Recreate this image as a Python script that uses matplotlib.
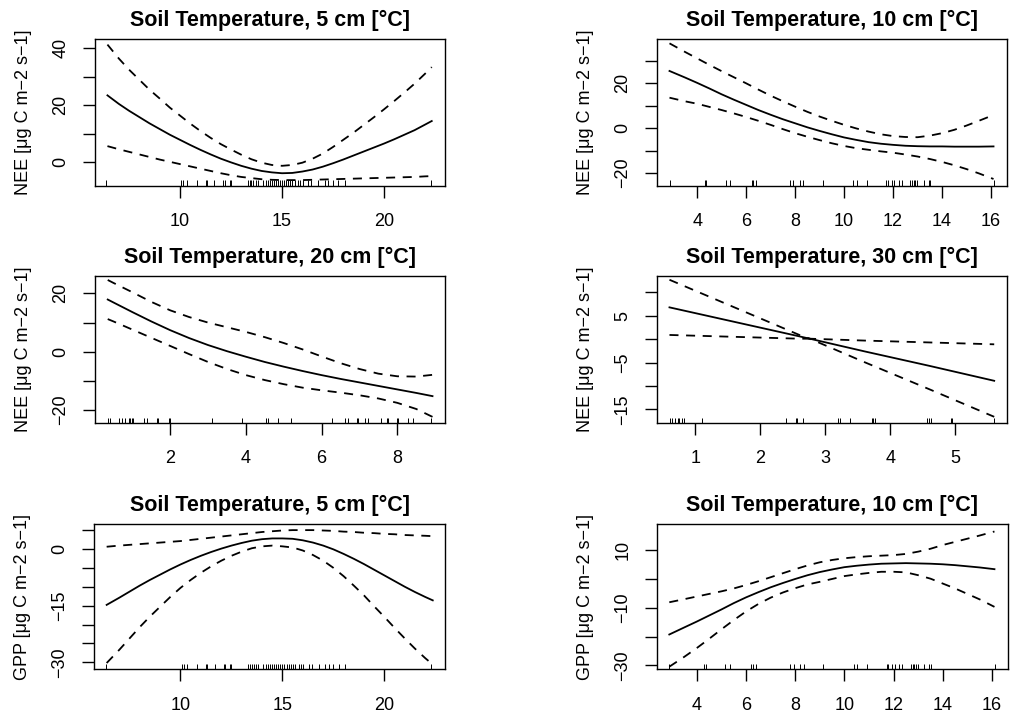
import matplotlib
matplotlib.use("Agg")
import matplotlib.pyplot as plt

plt.rcParams['font.family'] = ['Liberation Sans', 'DejaVu Sans']

# ---------------- data ----------------
titles = ["Soil Temperature, 5 cm [°C]", "Soil Temperature, 10 cm [°C]",
          "Soil Temperature, 20 cm [°C]", "Soil Temperature, 30 cm [°C]",
          "Soil Temperature, 5 cm [°C]", "Soil Temperature, 10 cm [°C]"]
ylabels = ["NEE [μg C m−2 s−1]", "NEE [μg C m−2 s−1]",
           "NEE [μg C m−2 s−1]", "NEE [μg C m−2 s−1]",
           "GPP [μg C m−2 s−1]", "GPP [μg C m−2 s−1]"]

# Panel 1: NEE ~ s(T5)
x1 = [6.44, 7, 7.5, 8, 8.5, 9, 9.5, 10, 10.5, 11, 11.5, 12, 12.5, 13, 13.5, 14, 14.5,
      15, 15.5, 16, 16.5, 17, 17.5, 18, 18.5, 19, 19.5, 20, 20.5, 21, 21.5, 22, 22.34]
fit1 = [23.4, 20.4, 18.0, 15.8, 13.6, 11.6, 9.6, 7.8, 6.0, 4.3, 2.7, 1.2, -0.1, -1.3, -2.3, -3.1, -3.6,
        -3.9, -3.8, -3.3, -2.6, -1.6, -0.4, 0.9, 2.3, 3.7, 5.1, 6.5, 8.0, 9.6, 11.2, 13.1, 14.4]
up1 = [41.2, 36.3, 32.4, 28.9, 25.4, 22.3, 19.1, 16.3, 13.5, 10.9, 8.5, 6.3, 4.4, 2.6, 1.0, -0.2, -1.0,
       -1.3, -1.0, -0.2, 1.2, 3.0, 5.3, 7.8, 10.3, 13.0, 15.7, 18.5, 21.4, 24.4, 27.5, 30.9, 33.3]
lo1 = [5.6, 4.5, 3.6, 2.7, 1.8, 0.9, 0.1, -0.7, -1.5, -2.3, -3.1, -3.9, -4.6, -5.2, -5.6, -6.0, -6.2,
       -6.3, -6.3, -6.3, -6.2, -6.1, -6.0, -5.9, -5.8, -5.7, -5.6, -5.5, -5.4, -5.3, -5.2, -5.0, -4.9]

# Panel 2: NEE ~ s(T10)
x2 = [2.87, 3.5, 4, 4.5, 5, 5.5, 6, 6.5, 7, 7.5, 8, 8.5, 9, 9.5, 10, 10.5, 11, 11.5, 12,
      12.5, 13, 13.5, 14, 14.5, 15, 15.5, 16.1]
fit2 = [25.5, 22.6, 20.2, 17.7, 15.1, 12.7, 10.4, 8.1, 6.0, 4.0, 2.2, 0.4, -1.2, -2.7, -4.1, -5.2,
        -6.2, -6.9, -7.4, -7.8, -8.0, -8.1, -8.1, -8.2, -8.2, -8.2, -8.1]
up2 = [37.8, 34.0, 31.1, 28.2, 25.4, 22.7, 20.0, 17.2, 14.5, 12.0, 9.6, 7.3, 5.2, 3.3, 1.5, -0.1,
       -1.5, -2.7, -3.5, -3.9, -4.0, -3.3, -2.2, -0.7, 1.2, 3.3, 5.9]
lo2 = [13.6, 12.0, 10.9, 9.5, 8.1, 6.6, 5.0, 3.3, 1.5, -0.4, -2.2, -3.8, -5.3, -6.7, -7.9, -8.9,
       -9.6, -10.3, -10.9, -11.7, -12.6, -13.7, -15.0, -16.5, -18.2, -20.1, -22.6]

# Panel 3: NEE ~ s(T20)
x3 = [0.35, 0.5, 1, 1.5, 2, 2.5, 3, 3.5, 4, 4.5, 5, 5.5, 6, 6.5, 7, 7.5, 8, 8.5, 8.93]
fit3 = [17.9, 16.9, 13.6, 10.4, 7.4, 4.7, 2.3, 0.2, -1.7, -3.5, -5.1, -6.6, -8.0, -9.3, -10.5,
        -11.7, -12.9, -14.1, -15.2]
up3 = [24.6, 23.6, 20.4, 17.1, 14.2, 11.9, 10.0, 8.4, 6.8, 5.0, 3.0, 0.8, -1.6, -3.9, -5.9,
       -7.5, -8.4, -8.5, -7.9]
lo3 = [11.2, 10.4, 7.6, 4.8, 2.0, -0.8, -3.5, -5.9, -8.0, -9.7, -11.1, -12.3, -13.2, -14.0,
       -14.9, -16.0, -17.5, -19.6, -22.3]

# Panel 4: NEE ~ s(T30)
x4 = [0.6, 1.6, 2.6, 2.76, 3.6, 4.6, 5.6]
fit4 = [6.8, 3.7, 0.6, 0.1, -2.6, -5.7, -8.9]
up4 = [12.7, 6.8, 0.9, 0.1, -0.3, -0.7, -1.1]
lo4 = [0.9, 0.5, 0.1, 0.1, -4.9, -10.7, -16.6]

# Panel 5: GPP ~ s(T5)
x5 = [6.38, 7, 7.5, 8, 8.5, 9, 9.5, 10, 10.5, 11, 11.5, 12, 12.5, 13, 13.5, 14, 14.5, 15,
      15.5, 16, 16.5, 17, 17.5, 18, 18.5, 19, 19.5, 20, 20.5, 21, 21.5, 22, 22.37]
fit5 = [-14.8, -12.9, -11.3, -9.7, -8.2, -6.8, -5.4, -4.1, -2.9, -1.8, -0.8, 0.1, 0.9, 1.6, 2.2,
        2.6, 2.8, 2.8, 2.7, 2.3, 1.7, 0.9, -0.1, -1.3, -2.6, -4.0, -5.5, -7.0, -8.5, -10.0,
        -11.4, -12.7, -13.6]
up5 = [0.6, 0.9, 1.1, 1.3, 1.5, 1.7, 1.9, 2.1, 2.4, 2.7, 3.0, 3.3, 3.6, 3.9, 4.2, 4.5, 4.7,
       4.9, 5.0, 5.0, 5.0, 4.9, 4.8, 4.6, 4.5, 4.3, 4.2, 4.0, 3.9, 3.7, 3.6, 3.5, 3.4]
lo5 = [-30.2, -26.7, -23.7, -20.7, -17.9, -15.3, -12.7, -10.3, -8.2, -6.3, -4.6, -3.1, -1.8,
       -0.7, 0.2, 0.7, 0.9, 0.7, 0.4, -0.4, -1.6, -3.1, -5.0, -7.2, -9.7, -12.3, -15.2, -18.0,
       -20.9, -23.7, -26.4, -28.9, -30.6]

# Panel 6: GPP ~ s(T10)
x6 = [2.88, 3.5, 4, 4.5, 5, 5.5, 6, 6.5, 7, 7.5, 8, 8.5, 9, 9.5, 10, 10.5, 11, 11.5, 12,
      12.5, 13, 13.5, 14, 14.5, 15, 15.5, 16.1]
fit6 = [-19.3, -16.8, -14.8, -12.7, -10.6, -8.4, -6.4, -4.6, -2.9, -1.4, 0.0, 1.3, 2.4, 3.3,
        4.1, 4.6, 5.0, 5.3, 5.4, 5.5, 5.4, 5.3, 5.1, 4.8, 4.4, 4.0, 3.4]
up6 = [-8.1, -7.0, -6.1, -5.2, -4.3, -3.3, -2.1, -0.8, 0.6, 2.0, 3.4, 4.7, 5.8, 6.6, 7.2, 7.6,
       7.9, 8.1, 8.3, 8.7, 9.5, 10.5, 11.8, 12.9, 14.0, 15.1, 16.5]
lo6 = [-30.5, -27.0, -24.0, -20.8, -17.5, -14.3, -11.3, -8.7, -6.5, -4.7, -3.2, -1.9, -1.0,
       0.0, 1.0, 1.6, 2.1, 2.5, 2.5, 2.3, 1.3, 0.1, -1.6, -3.3, -5.2, -7.1, -9.7]

# rug (observed covariate values)
rug_5 = [6.37, 10.06, 10.16, 10.33, 10.82, 11.25, 11.32, 11.68, 12.12, 12.18, 12.45, 12.5,
         13.32, 13.42, 13.5, 13.6, 13.7, 13.82, 14.06, 14.2, 14.31, 14.4, 14.5, 14.6, 14.7,
         14.8, 14.88, 15.0, 15.1, 15.2, 15.3, 15.4, 15.5, 15.62, 15.79, 15.9, 16.03, 16.28,
         16.44, 16.78, 17.1, 17.26, 17.5, 17.75, 18.08, 22.3]
rug_10 = [2.88, 4.31, 4.38, 5.16, 5.34, 6.22, 6.29, 6.40, 7.79, 7.93, 8.20, 8.34, 9.12,
          10.38, 10.52, 10.93, 11.72, 11.78, 11.95, 12.05, 12.23, 12.36, 12.70, 12.77,
          12.84, 12.91, 12.98, 13.25, 13.45, 13.52, 16.11]
rug_20 = [0.37, 0.42, 0.64, 0.72, 0.81, 0.90, 0.94, 0.99, 1.03, 1.30, 1.38, 1.65, 1.69,
          1.96, 2.0, 3.10, 3.89, 4.52, 4.59, 4.86, 5.19, 6.27, 6.62, 6.71, 6.93, 6.97,
          7.15, 7.23, 7.58, 7.72, 7.76, 7.98, 8.02, 8.29, 8.42, 8.9]
rug_30 = [0.61, 0.64, 0.68, 0.73, 0.75, 0.80, 0.83, 1.10, 2.40, 2.55, 2.57, 2.66, 3.20,
          3.23, 3.38, 3.72, 3.74, 3.77, 4.57, 4.59, 4.62, 4.93, 4.95, 5.6]

# axis ticks and tick labels
xticks1 = [10, 15, 20]
xticks2 = [4, 6, 8, 10, 12, 14, 16]
xticks3 = [2, 4, 6, 8]
xticks4 = [1, 2, 3, 4, 5]
yticks1 = [0, 10, 20, 30, 40]
ylabs1 = ["0", "", "20", "", "40"]
yticks2 = [-20, -10, 0, 10, 20, 30]
ylabs2 = ["−20", "", "0", "", "20", ""]
yticks3 = [-20, -10, 0, 10, 20]
ylabs3 = ["−20", "", "0", "", "20"]
yticks4 = [-15, -10, -5, 0, 5, 10]
ylabs4 = ["−15", "", "−5", "", "5", ""]
yticks5 = [-30, -25, -20, -15, -10, -5, 0, 5]
ylabs5 = ["−30", "", "", "−15", "", "", "0", ""]
yticks6 = [-30, -20, -10, 0, 10]
ylabs6 = ["−30", "", "−10", "", "10"]

# ---------------- layout ----------------
W, H = 1017, 715
fig = plt.figure(figsize=(W / 100, H / 100), dpi=100)

# pixel boxes (left, top, right, bottom)
boxes = [(95, 39.3, 445, 185.5), (657, 39.3, 1007, 185.5),
         (95, 275.7, 445, 422.7), (657, 275.7, 1007, 422.7),
         (94, 524, 445, 669.3), (657, 524.3, 1008, 669.3)]
xlims = [(5.83, 22.99), (2.36, 16.65), (0.014, 9.26), (0.408, 5.797), (5.76, 22.97), (2.38, 16.65)]
ylims = [(-8.2, 43.05), (-25.5, 39.6), (-24.3, 26.06), (-17.86, 13.57), (-31.86, 6.62), (-31.4, 19.0)]

panels = [
    (x1, fit1, up1, lo1, rug_5, xticks1, yticks1, ylabs1),
    (x2, fit2, up2, lo2, rug_10, xticks2, yticks2, ylabs2),
    (x3, fit3, up3, lo3, rug_20, xticks3, yticks3, ylabs3),
    (x4, fit4, up4, lo4, rug_30, xticks4, yticks4, ylabs4),
    (x5, fit5, up5, lo5, rug_5, xticks1, yticks5, ylabs5),
    (x6, fit6, up6, lo6, rug_10, xticks2, yticks6, ylabs6),
]

dash = (0, (5.0, 4.2))
for i, (x, f, u, l, rug, xt, yt, yl) in enumerate(panels):
    L, T, R, B = boxes[i]
    ax = fig.add_axes([L / W, 1 - B / H, (R - L) / W, (B - T) / H])
    ax.plot(x, f, color="black", lw=1.3, solid_joinstyle="round")
    ax.plot(x, u, color="black", lw=1.3, linestyle=dash)
    ax.plot(x, l, color="black", lw=1.3, linestyle=dash)
    ax.vlines(rug, 0, 0.035, transform=ax.get_xaxis_transform(), color="black", lw=0.7)
    ax.set_xlim(*xlims[i])
    ax.set_ylim(*ylims[i])
    ax.set_xticks(xt)
    ax.set_xticklabels([str(v) for v in xt])
    ax.set_yticks(yt)
    ax.set_yticklabels(yl, rotation=90, va="center")
    ax.tick_params(axis="both", direction="out", length=8.6, width=1.0, labelsize=13, color="black")
    ax.tick_params(axis="x", pad=11)
    ax.tick_params(axis="y", pad=10)
    for s in ax.spines.values():
        s.set_linewidth(1.0)
    ax.set_title(titles[i], fontsize=15.5, fontweight="bold", pad=9.4)
    ax.set_ylabel(ylabels[i], fontsize=13)
    ax.yaxis.set_label_coords(-63 / (R - L), 0.5)

fig.savefig("out.png", dpi=100)
